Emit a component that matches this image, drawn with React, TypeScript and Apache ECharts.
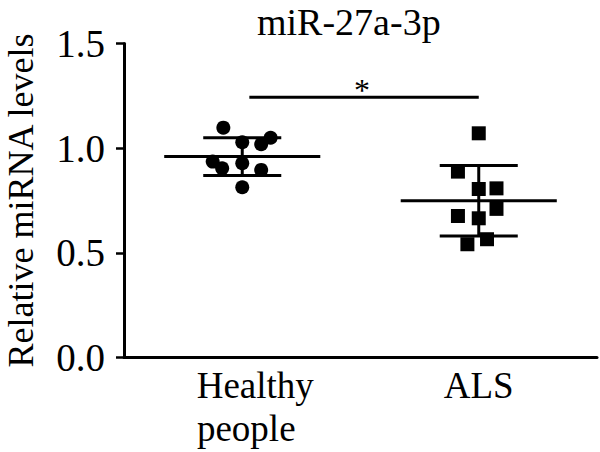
import React, { useEffect, useRef } from "react";
import * as echarts from "echarts";

const titleText = "miR-27a-3p";
const yAxisName = "Relative miRNA levels";
const categories = ["Healthy people", "ALS"];
const yTicks = [0, 0.5, 1.0, 1.5];

// Healthy people: x jitter (category units, offset from centre) and values
const healthyJitter = [-0.08, 0, 0.12, 0.08, -0.125, -0.085, 0, 0.08, 0];
const healthyValues = [1.098, 1.028, 1.05, 1.019, 0.936, 0.904, 0.928, 0.896, 0.813];
// ALS
const alsJitter = [0, -0.088, 0, 0.075, 0.075, -0.088, 0, -0.048, 0.035];
const alsValues = [1.071, 0.888, 0.805, 0.808, 0.71, 0.676, 0.665, 0.541, 0.565];

const groupMeans = [0.96, 0.749];
const groupSDs = [0.09, 0.168];

// significance bracket: from (category units) to, value, label
const sigFrom = [0.53];
const sigTo = [1.5];
const sigValue = [1.243];
const sigLabel = ["*"];

const FONT = '"Liberation Serif", "Times New Roman", serif';
const INK = "#000";

export default function App() {
  const ref = useRef<HTMLDivElement>(null);
  useEffect(() => {
    if (!ref.current) return;
    const chart = echarts.init(ref.current, undefined, { renderer: "svg" });

    const healthyData = healthyValues.map((v, i) => [0.5 + healthyJitter[i], v]);
    const alsData = alsValues.map((v, i) => [1.5 + alsJitter[i], v]);
    const statsData = groupMeans.map((m, i) => [i + 0.5, m, groupSDs[i]]);
    const sigData = sigFrom.map((f, i) => [f, sigTo[i], sigValue[i]]);

    chart.setOption({
      animation: false,
      title: {
        text: titleText,
        left: 257,
        top: 3,
        padding: 0,
        textStyle: { fontFamily: FONT, fontSize: 38, fontWeight: "normal", color: INK },
      },
      grid: { left: 124, right: 3, top: 43.5, bottom: 94.5, outerBoundsMode: "none", containLabel: false },
      xAxis: [
        {
          type: "category",
          data: categories,
          boundaryGap: true,
          axisLine: { lineStyle: { color: INK, width: 3 } },
          axisTick: { alignWithLabel: true, length: 8, lineStyle: { color: INK, width: 2.5 } },
          axisLabel: {
            margin: 6,
            color: INK,
            fontFamily: FONT,
            fontSize: 37,
            lineHeight: 43,
            formatter: (val: string) => {
              const w = val.split(" ");
              if (w.length > 1) return `{a|${w[0]}}\n{b|${w.slice(1).join(" ")}}`;
              return `{c|${val}}`;
            },
            rich: {
              a: { fontFamily: FONT, fontSize: 37, lineHeight: 43, color: INK, padding: [0, 0, 0, 26] },
              b: { fontFamily: FONT, fontSize: 37, lineHeight: 43, color: INK, padding: [0, 18, 0, 26] },
              c: { fontFamily: FONT, fontSize: 37, lineHeight: 43, color: INK },
            },
          },
          splitLine: { show: false },
        },
        {
          type: "value",
          min: 0,
          max: 2,
          show: false,
        },
      ],
      yAxis: {
        type: "value",
        min: 0,
        max: 1.5,
        interval: 0.5,
        name: yAxisName,
        nameLocation: "middle",
        nameGap: 85,
        nameTextStyle: { fontFamily: FONT, fontSize: 36, color: INK },
        axisLine: { show: true, lineStyle: { color: INK, width: 3 } },
        axisTick: { show: true, length: 8, lineStyle: { color: INK, width: 2.5 } },
        axisLabel: {
          margin: 19,
          color: INK,
          fontFamily: FONT,
          fontSize: 39,
          formatter: (v: number) => (yTicks.includes(v) ? v.toFixed(1) : ""),
        },
        splitLine: { show: false },
      },
      series: [
        {
          type: "custom",
          xAxisIndex: 1,
          data: statsData,
          z: 2,
          renderItem: (params: any, api: any) => {
            const x = api.value(0);
            const m = api.value(1);
            const s = api.value(2);
            const st = { stroke: INK, lineWidth: 3 };
            const L = (a: number[], b: number[]) => ({
              type: "line",
              shape: { x1: a[0], y1: a[1], x2: b[0], y2: b[1] },
              style: st,
            });
            return {
              type: "group",
              children: [
                L(api.coord([x - 0.33, m]), api.coord([x + 0.33, m])),
                L(api.coord([x - 0.165, m + s]), api.coord([x + 0.165, m + s])),
                L(api.coord([x - 0.165, m - s]), api.coord([x + 0.165, m - s])),
                L(api.coord([x, m + s]), api.coord([x, m - s])),
              ],
            };
          },
        },
        {
          type: "scatter",
          name: "Healthy people",
          xAxisIndex: 1,
          symbol: "circle",
          symbolSize: 14,
          itemStyle: { color: INK, opacity: 1 },
          data: healthyData,
          z: 3,
        },
        {
          type: "scatter",
          name: "ALS",
          xAxisIndex: 1,
          symbol: "rect",
          symbolSize: 14,
          itemStyle: { color: INK, opacity: 1 },
          data: alsData,
          z: 3,
        },
        {
          type: "custom",
          xAxisIndex: 1,
          data: sigData,
          renderItem: (params: any, api: any) => {
            const a = api.coord([api.value(0), api.value(2)]);
            const b = api.coord([api.value(1), api.value(2)]);
            return {
              type: "group",
              children: [
                {
                  type: "line",
                  shape: { x1: a[0], y1: a[1], x2: b[0], y2: b[1] },
                  style: { stroke: INK, lineWidth: 3 },
                },
                {
                  type: "text",
                  x: (a[0] + b[0]) / 2 - 2,
                  y: a[1] - 7,
                  style: {
                    text: sigLabel[params.dataIndex],
                    fontFamily: FONT,
                    fontSize: 32,
                    fill: INK,
                    align: "center",
                    verticalAlign: "middle",
                  },
                },
              ],
            };
          },
        },
      ],
    });
    return () => chart.dispose();
  }, []);

  return (
    <div
      ref={ref}
      style={{ position: "fixed", left: 0, top: 0, width: 600, height: 452, background: "#fff" }}
    />
  );
}
